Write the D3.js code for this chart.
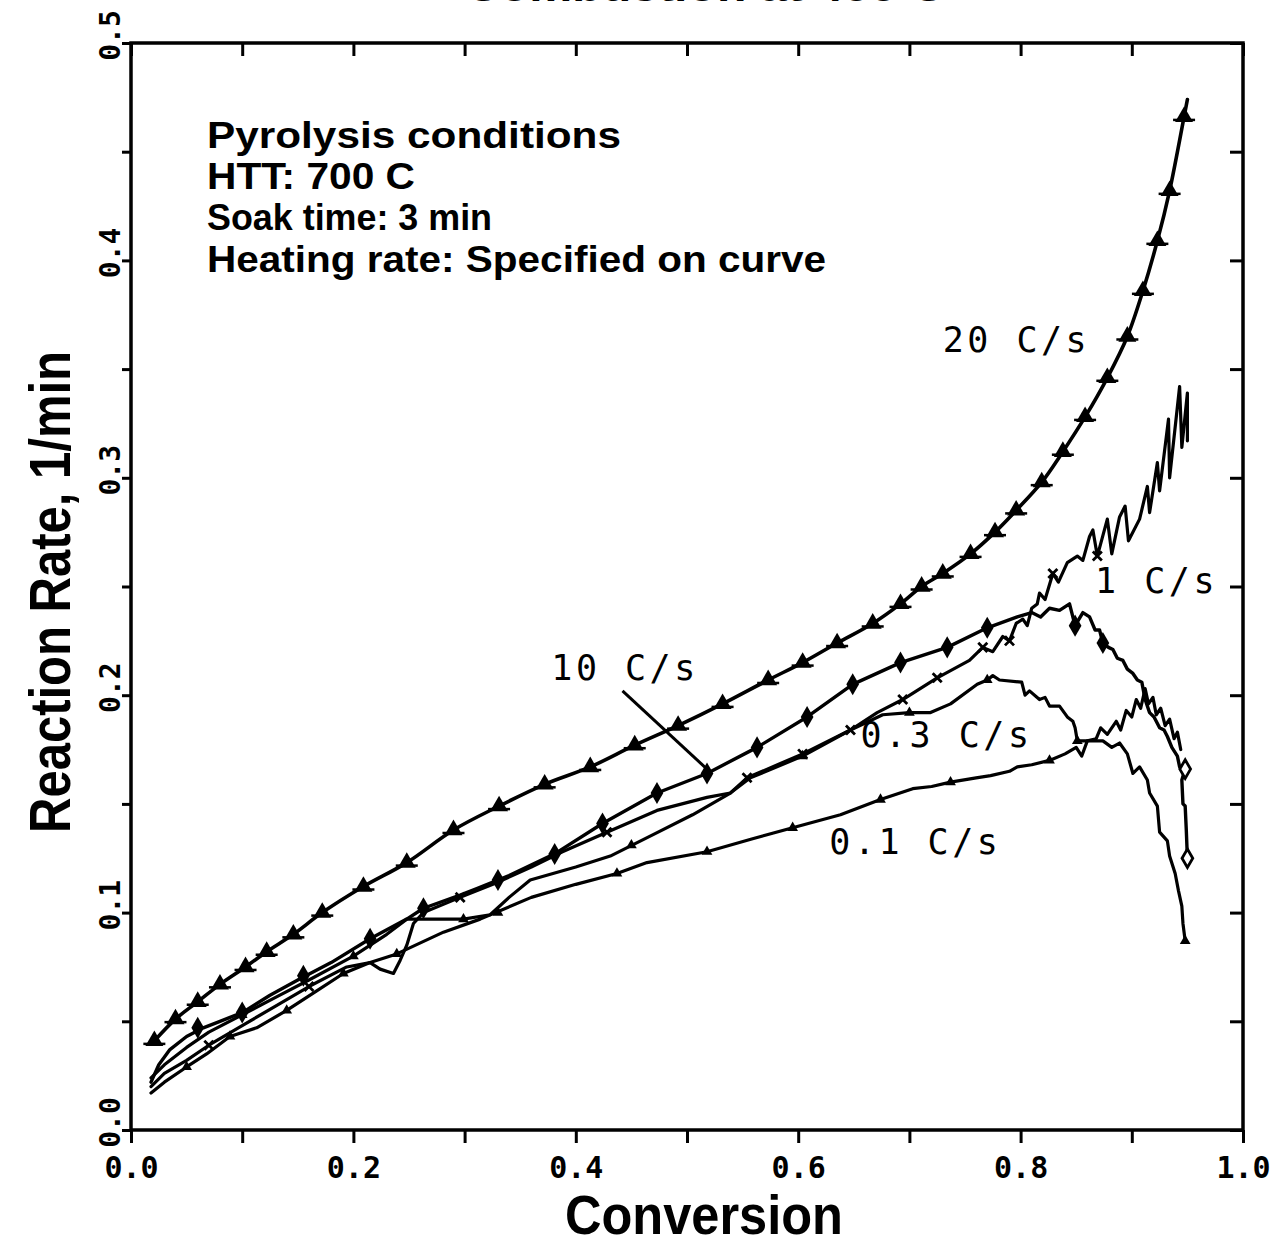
<!DOCTYPE html>
<html>
<head>
<meta charset="utf-8">
<script src="https://cdn.jsdelivr.net/npm/d3@7"></script>
<style>
  html, body { margin: 0; padding: 0; background: #fff; }
  svg { display: block; }
</style>
</head>
<body>
<svg id="chart" width="1277" height="1250"></svg>
<script>
// ---------------- DATA ----------------
const xTickLabels = ["0.0", "0.2", "0.4", "0.6", "0.8", "1.0"];
const yTickLabels = ["0.0", "0.1", "0.2", "0.3", "0.4", "0.5"];
const xTitle = "Conversion";
const yTitle = "Reaction  Rate,  1/min";
const chartTitle = "Combustion  at  400 C";
const noteLines = ["Pyrolysis  conditions", "HTT: 700 C", "Soak time:  3 min", "Heating  rate:  Specified on curve"];
const seriesNames = ["20 C/s", "10 C/s", "1 C/s", "0.3 C/s", "0.1 C/s"];

const rate20 = [[0.021,0.041],[0.040,0.051],[0.060,0.059],[0.080,0.067],[0.103,0.075],[0.122,0.082],[0.146,0.090],[0.172,0.100],[0.209,0.112],[0.248,0.123],[0.290,0.138],[0.331,0.149],[0.372,0.159],[0.413,0.167],[0.453,0.177],[0.492,0.186],[0.532,0.196],[0.573,0.207],[0.604,0.215],[0.635,0.224],[0.667,0.233],[0.692,0.242],[0.711,0.250],[0.730,0.256],[0.755,0.265],[0.777,0.275],[0.796,0.285],[0.819,0.298],[0.838,0.312],[0.858,0.328],[0.878,0.346],[0.896,0.365],[0.910,0.386],[0.923,0.409],[0.934,0.432],[0.947,0.466],[0.950,0.474]];
const markers20 = rate20.slice(0, rate20.length - 1);

const rate10 = [[0.018,0.022],[0.025,0.030],[0.035,0.037],[0.050,0.043],[0.065,0.047],[0.080,0.050],[0.100,0.054],[0.125,0.062],[0.150,0.069],[0.180,0.077],[0.215,0.088],[0.248,0.097],[0.263,0.102],[0.296,0.108],[0.311,0.111],[0.340,0.117],[0.381,0.127],[0.424,0.141],[0.473,0.155],[0.518,0.164],[0.563,0.176],[0.608,0.190],[0.649,0.205],[0.692,0.215],[0.734,0.222],[0.770,0.231],[0.797,0.236],[0.810,0.238],[0.818,0.236],[0.826,0.240],[0.835,0.239],[0.844,0.242],[0.849,0.232],[0.856,0.238],[0.862,0.236],[0.867,0.230],[0.871,0.230],[0.874,0.224],[0.879,0.222],[0.883,0.221],[0.887,0.217],[0.892,0.216],[0.896,0.212],[0.901,0.210],[0.905,0.207],[0.909,0.206],[0.912,0.198],[0.916,0.192],[0.920,0.190],[0.925,0.185],[0.929,0.184],[0.932,0.181],[0.936,0.176],[0.941,0.172],[0.943,0.167],[0.948,0.166],[0.945,0.161],[0.946,0.150],[0.948,0.149],[0.949,0.138],[0.950,0.125]];
const markers10 = [[0.060,0.047],[0.100,0.054],[0.155,0.071],[0.215,0.088],[0.263,0.102],[0.330,0.115],[0.381,0.127],[0.424,0.141],[0.473,0.155],[0.518,0.164],[0.563,0.176],[0.608,0.190],[0.649,0.205],[0.692,0.215],[0.734,0.222],[0.770,0.231],[0.849,0.232],[0.874,0.224]];
const openMarkers10 = [[0.948,0.166],[0.950,0.125]];

const rate1 = [[0.018,0.020],[0.030,0.026],[0.050,0.032],[0.070,0.039],[0.100,0.048],[0.130,0.057],[0.160,0.066],[0.194,0.075],[0.215,0.077],[0.224,0.074],[0.236,0.072],[0.242,0.078],[0.248,0.085],[0.254,0.095],[0.263,0.100],[0.296,0.107],[0.330,0.114],[0.360,0.121],[0.388,0.128],[0.428,0.137],[0.473,0.147],[0.518,0.153],[0.539,0.155],[0.554,0.162],[0.604,0.173],[0.647,0.184],[0.671,0.192],[0.694,0.198],[0.725,0.208],[0.754,0.216],[0.766,0.222],[0.775,0.220],[0.784,0.227],[0.790,0.225],[0.796,0.233],[0.802,0.235],[0.806,0.232],[0.810,0.240],[0.815,0.242],[0.817,0.247],[0.822,0.244],[0.829,0.256],[0.834,0.252],[0.842,0.261],[0.851,0.264],[0.856,0.262],[0.862,0.273],[0.865,0.276],[0.869,0.264],[0.878,0.281],[0.882,0.265],[0.889,0.282],[0.894,0.287],[0.897,0.271],[0.907,0.281],[0.914,0.296],[0.916,0.284],[0.923,0.307],[0.925,0.294],[0.933,0.327],[0.934,0.300],[0.943,0.342],[0.945,0.314],[0.950,0.339],[0.950,0.317]];
const markers1 = [[0.070,0.039],[0.160,0.066],[0.296,0.107],[0.428,0.137],[0.554,0.162],[0.604,0.173],[0.647,0.184],[0.694,0.198],[0.725,0.208],[0.766,0.222],[0.790,0.225],[0.829,0.256],[0.869,0.264]];

const rate03 = [[0.018,0.024],[0.030,0.030],[0.050,0.038],[0.070,0.045],[0.100,0.053],[0.130,0.061],[0.160,0.069],[0.200,0.080],[0.230,0.090],[0.248,0.097],[0.270,0.097],[0.299,0.097],[0.323,0.099],[0.340,0.107],[0.359,0.115],[0.400,0.121],[0.431,0.126],[0.470,0.136],[0.505,0.145],[0.539,0.155],[0.557,0.162],[0.604,0.172],[0.647,0.184],[0.676,0.191],[0.700,0.192],[0.719,0.192],[0.737,0.196],[0.761,0.205],[0.770,0.207],[0.775,0.209],[0.781,0.207],[0.801,0.206],[0.804,0.200],[0.808,0.202],[0.817,0.198],[0.822,0.199],[0.826,0.195],[0.835,0.195],[0.842,0.190],[0.847,0.188],[0.849,0.185],[0.851,0.179],[0.860,0.179],[0.874,0.179],[0.882,0.176],[0.889,0.178],[0.896,0.173],[0.901,0.164],[0.907,0.167],[0.914,0.161],[0.916,0.155],[0.923,0.149],[0.925,0.137],[0.932,0.133],[0.934,0.126],[0.939,0.118],[0.942,0.110],[0.945,0.103],[0.946,0.095],[0.948,0.087]];
const markers03 = [[0.100,0.053],[0.200,0.080],[0.299,0.097],[0.450,0.131],[0.604,0.172],[0.700,0.192],[0.770,0.207],[0.851,0.179],[0.948,0.087]];

const rate01 = [[0.018,0.017],[0.030,0.022],[0.050,0.029],[0.068,0.035],[0.089,0.043],[0.113,0.047],[0.140,0.055],[0.167,0.064],[0.191,0.072],[0.215,0.077],[0.239,0.081],[0.281,0.091],[0.314,0.097],[0.360,0.107],[0.400,0.113],[0.437,0.118],[0.464,0.123],[0.518,0.128],[0.559,0.134],[0.595,0.139],[0.638,0.145],[0.674,0.152],[0.703,0.157],[0.720,0.158],[0.737,0.160],[0.760,0.162],[0.773,0.163],[0.790,0.165],[0.797,0.167],[0.810,0.168],[0.826,0.170],[0.840,0.173],[0.850,0.176],[0.855,0.172],[0.860,0.179],[0.868,0.180],[0.872,0.185],[0.878,0.182],[0.886,0.188],[0.890,0.184],[0.895,0.193],[0.900,0.190],[0.904,0.198],[0.908,0.194],[0.912,0.203],[0.915,0.196],[0.919,0.199],[0.922,0.191],[0.926,0.194],[0.930,0.186],[0.934,0.189],[0.938,0.180],[0.941,0.183],[0.944,0.175]];
const markers01 = [[0.050,0.029],[0.089,0.043],[0.140,0.055],[0.191,0.072],[0.239,0.081],[0.330,0.100],[0.437,0.118],[0.518,0.128],[0.595,0.139],[0.674,0.152],[0.737,0.160],[0.826,0.170]];

// label anchor positions (data coords)
const labelPos = [[0.730, 0.358], [0.378, 0.207], [0.867, 0.247], [0.656, 0.176], [0.628, 0.127]];
const leader10 = [[0.442, 0.202], [0.518, 0.166]];

// ---------------- CHART ----------------
const svg = d3.select("#chart");
const L = 131, R = 1243, T = 43, B = 1130;
const x = d3.scaleLinear().domain([0, 1]).range([L, R]);
const y = d3.scaleLinear().domain([0, 0.5]).range([B, T]);

const monoFont = "'DejaVu Sans Mono', 'Liberation Mono', monospace";
const sansFont = "'Liberation Sans', Arial, sans-serif";

// title: only its lowest sliver falls inside the picture, as in the reference
svg.append("text")
  .attr("x", 705).attr("y", 1)
  .attr("text-anchor", "middle")
  .attr("font-family", sansFont).attr("font-weight", "bold")
  .attr("font-size", 40)
  .attr("textLength", 480).attr("lengthAdjust", "spacingAndGlyphs")
  .text(chartTitle);

// axes
const xTicks = d3.range(0, 11).map(i => i / 10);
const yTicks = d3.range(0, 11).map(i => i * 0.05);

const gB = svg.append("g").attr("transform", `translate(0,${B})`)
  .call(d3.axisBottom(x).tickValues(xTicks).tickSize(13).tickSizeOuter(0)
    .tickFormat((d, i) => i % 2 === 0 ? xTickLabels[i / 2] : ""));
gB.selectAll("text").attr("font-family", monoFont).attr("font-weight", "bold")
  .attr("font-size", 30).attr("fill", "#000").attr("dy", "1.05em");

svg.append("g").attr("transform", `translate(0,${T})`)
  .call(d3.axisTop(x).tickValues(xTicks).tickSize(-13).tickSizeOuter(0).tickFormat(""));

const gL = svg.append("g").attr("transform", `translate(${L},0)`)
  .call(d3.axisLeft(y).tickValues(yTicks).tickSize(9).tickSizeOuter(0)
    .tickFormat((d, i) => i % 2 === 0 ? yTickLabels[i / 2] : ""));
gL.selectAll("text")
  .attr("x", null).attr("dy", null)
  .attr("transform", "translate(-11,-8) rotate(-90)")
  .attr("text-anchor", "middle")
  .attr("font-family", monoFont).attr("font-weight", "bold")
  .attr("font-size", 28).attr("fill", "#000");

svg.append("g").attr("transform", `translate(${R},0)`)
  .call(d3.axisRight(y).tickValues(yTicks).tickSize(-13).tickSizeOuter(0).tickFormat(""));

svg.selectAll(".domain").remove();
svg.selectAll(".tick line").attr("stroke", "#000").attr("stroke-width", 3);

svg.append("rect")
  .attr("x", L).attr("y", T).attr("width", R - L).attr("height", B - T)
  .attr("fill", "none").attr("stroke", "#000").attr("stroke-width", 3.5);

// axis titles
svg.append("text")
  .attr("x", 704).attr("y", 1234)
  .attr("text-anchor", "middle")
  .attr("font-family", sansFont).attr("font-weight", "bold").attr("font-size", 56)
  .attr("textLength", 278).attr("lengthAdjust", "spacingAndGlyphs")
  .text(xTitle);

svg.append("text")
  .attr("transform", "translate(70,592) rotate(-90)")
  .attr("text-anchor", "middle")
  .attr("font-family", sansFont).attr("font-weight", "bold").attr("font-size", 58)
  .attr("textLength", 482).attr("lengthAdjust", "spacingAndGlyphs")
  .text(yTitle);

// note
const noteY = [148, 189, 230, 272];
const noteW = [414, 208, 285, 619];
noteLines.forEach((t, i) => {
  svg.append("text")
    .attr("x", 207).attr("y", noteY[i])
    .attr("font-family", sansFont).attr("font-weight", "bold").attr("font-size", 37)
    .attr("textLength", noteW[i]).attr("lengthAdjust", "spacingAndGlyphs")
    .text(t);
});

// lines
const lineLin = d3.line().x(d => x(d[0])).y(d => y(d[1]));
const lineSmooth = d3.line().x(d => x(d[0])).y(d => y(d[1])).curve(d3.curveCatmullRom.alpha(0.5));
const plot = svg.append("g");

const seriesDefs = [
  { data: rate20, gen: lineSmooth, w: 3.6 },
  { data: rate10, gen: lineLin, w: 3.4 },
  { data: rate1, gen: lineLin, w: 3.2 },
  { data: rate03, gen: lineLin, w: 3.2 },
  { data: rate01, gen: lineLin, w: 3.2 }
];
seriesDefs.forEach(s => {
  plot.append("path").datum(s.data)
    .attr("d", s.gen)
    .attr("fill", "none").attr("stroke", "#000")
    .attr("stroke-width", s.w).attr("stroke-linejoin", "round").attr("stroke-linecap", "round");
});

// markers: 20 C/s triangles with crossbar
const tri = d3.symbol().type(d3.symbolTriangle);
plot.selectAll(".m20").data(markers20).join("g")
  .attr("transform", d => `translate(${x(d[0])},${y(d[1])})`)
  .each(function () {
    const g = d3.select(this);
    g.append("path").attr("d", tri.size(140)()).attr("fill", "#000");
    g.append("line").attr("x1", -11).attr("x2", 11).attr("y1", 3).attr("y2", 3)
      .attr("stroke", "#000").attr("stroke-width", 2.5);
  });

// 10 C/s diamonds
const dia = d3.symbol().type(d3.symbolDiamond);
plot.selectAll(".m10").data(markers10).join("path")
  .attr("transform", d => `translate(${x(d[0])},${y(d[1])})`)
  .attr("d", dia.size(140)()).attr("fill", "#000");
plot.selectAll(".m10o").data(openMarkers10).join("path")
  .attr("transform", d => `translate(${x(d[0])},${y(d[1])})`)
  .attr("d", dia.size(100)()).attr("fill", "#fff").attr("stroke", "#000").attr("stroke-width", 2.8);

// 1 C/s small crosses
const cross = d3.symbol().type(d3.symbolX);
plot.selectAll(".m1").data(markers1).join("path")
  .attr("transform", d => `translate(${x(d[0])},${y(d[1])})`)
  .attr("d", cross.size(55)()).attr("fill", "none").attr("stroke", "#000").attr("stroke-width", 2.8);

// 0.3 and 0.1 C/s small triangles
plot.selectAll(".m03").data(markers03.concat(markers01)).join("path")
  .attr("transform", d => `translate(${x(d[0])},${y(d[1])})`)
  .attr("d", tri.size(50)()).attr("fill", "#000");

// curve labels
seriesNames.forEach((name, i) => {
  svg.append("text")
    .attr("x", x(labelPos[i][0])).attr("y", y(labelPos[i][1]))
    .attr("font-family", monoFont).attr("font-size", 35)
    .attr("letter-spacing", 3.5)
    .attr("fill", "#000")
    .text(name);
});

// leader for 10 C/s
svg.append("line")
  .attr("x1", x(leader10[0][0])).attr("y1", y(leader10[0][1]))
  .attr("x2", x(leader10[1][0])).attr("y2", y(leader10[1][1]))
  .attr("stroke", "#000").attr("stroke-width", 3);
</script>
</body>
</html>
